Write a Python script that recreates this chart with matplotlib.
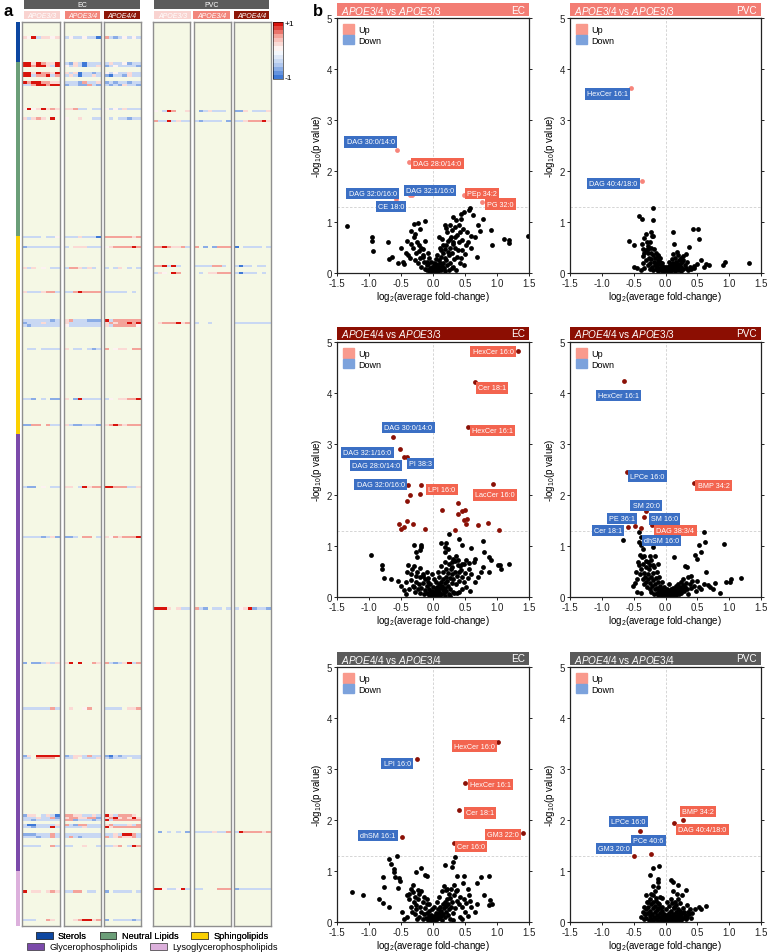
import numpy as np
import matplotlib
matplotlib.use('Agg')
import matplotlib.pyplot as plt
from matplotlib.patches import Patch
from matplotlib.colors import LinearSegmentedColormap, Normalize
import matplotlib.colorbar as mcolorbar

plt.rcParams['font.family'] = ['Liberation Sans', 'DejaVu Sans']
plt.rcParams['mathtext.fontset'] = 'custom'
plt.rcParams['mathtext.rm'] = 'Liberation Sans'
plt.rcParams['mathtext.it'] = 'Liberation Sans:italic'
plt.rcParams['axes.unicode_minus'] = False

# ---------------- panel a: heatmap data ----------------
N_LIPIDS = 380
N_SAMPLES = 8
cat_names = ['Sterols', 'Neutral Lipids', 'Sphingolipids',
             'Glycerophospholipids', 'Lysoglycerophospholipids']
cat_start = [0, 17, 90, 173, 357]
cat_colors = ['#0d47a1', '#6b9e78', '#fbd000', '#7b4aaa', '#dcb0dc']
groups = ['APOE3/3', 'APOE3/4', 'APOE4/4']
group_colors = ['#f9d3d0', '#f2857b', '#8e1709']

# cell codes: R strong up, r up, p slight up, 0 none, b slight down, B down, D strong down, . not shown
level = {'R': 0.9, 'r': 0.55, 'p': 0.25, '0': 0.0, 'b': -0.3, 'B': -0.6, 'D': -0.9, '.': np.nan}

hm_rows = [6, 17, 18, 21, 22, 25, 26, 36, 37, 40, 41, 90, 94, 102, 103, 105, 113,
           125, 126, 127, 137, 158, 169, 195, 216, 246, 269, 288, 308, 309,
           333, 334, 335, 337, 338, 340, 341, 342, 346, 364, 365, 377]
hm_ec = [
    ("p0Rbpp0p", "b0bb0bbD", "rbBb0b0b"),
    ("RRpRrppR", "bBpbDbbb", "bpbb0Bbb"),
    ("RRrRRpbR", "0bpbDbbp", "Bb0bbbbB"),
    ("RRpRrrpR", "pbpDbbBb", "0b0bbpbb"),
    ("RRbrrRbr", "bpbDbbpb", "BDbbBpbb"),
    ("RrRRrrpp", "bbbBrbbp", "BbBbbBbb"),
    ("bbrRRrRR", "BbbBBrbB", "bBbBpbbB"),
    ("0R0pRprp", "pprbb.bb", "0b0bpbbb"),
    None,
    ("pbprp.R.", "0..p..bb", ".b.bbBbb"),
    None,
    ("bbbb.bb0", "bbbpbbbD", "rrrrrrpr"),
    ("Bbbbbbbb", "b.pppbbb", "0prrrrRr"),
    None,
    ("pbp.0.bb", "brrpbpb.", "b.bp.b.b"),
    None,
    ("pbbbprrb", "bbrRrrrr", "bbbbb.b."),
    ("bbbbbbBb", "prbbbBBB", "Rbrrrrrr"),
    ("Bbbbpbbb", "pbbbbbbb", "prprrRrR"),
    ("bBbbbbbb", "0bbbbbbb", "pbrrrrr0"),
    (".bb.bbbb", "p.bb.bBb", "r.0pp.rr"),
    ("bbB.b.BB", "p.BRbbbb", "b0.pprrR"),
    ("BBrr.rbb", "pbBBbbbB", "prRrprrr"),
    ("bBB.0.bb", "pp.bRprr", "RRrrrbbp"),
    ("bbbbBbpB", "BBb.rr.b", "p0rprrrR"),
    None,
    ("B.BBbpbp", "pR.R..rp", "rbBbpRbr"),
    ("bbbbbbrb", ".p..0r..", "bbbb.ppr"),
    ("Bp.RRRRR", "Bbppbrbb", "BDbBbbbb"),
    ("bb.rrrr.", "bbp.bbbp", "bBbbb.bb"),
    ("Bpp.bpbD", "rrppbbpb", "Rpbrrrp."),
    ("bbbpbbrB", "prrpprrB", "prRprpRp"),
    ("bbBbbbbb", "rrBbbbBb", "Rbrrrrrr"),
    ("bDDbbbbp", "rbBrrbbb", "prbbbpbr"),
    ("bbBbbbRb", "bbbbpbbb", "Rprrrrrr"),
    None,
    ("BBBbbbrb", "bbbbbbbb", "bbpbRRrb"),
    ("bbbBbbrb", "brbBbbbb", "rbprpprb"),
    ("bbbb..rb", "bb..p..b", "bbpr.bRr"),
    None,
    ("R.pp.prp", "bbrr.bb.", "B.bbbb.b"),
    ("bbb..rp.", "..prRRpr", "B.bbbbBb"),
]
hm_pvc = [
    None, None, None, None, None, None, None, None,
    ("0.bRr..p", ".Bbpbbb.", "BBp.bbbp"),
    None,
    ("rbbRbpbb", "bBbbbb.B", "bbprrrRp"),
    None,
    ("rrRrpprb", "r.B.Brrr", "D.bbbb.b"),
    ("rrRbRb..", "bbbbrrb.", "bDbb.bb."),
    None,
    ("bp0.Rr..", ".b.pprrr", "bDbbb.b."),
    None, None,
    (".prrrRpr", "b..b....", "bbbbbbbb"),
    None, None, None, None, None, None,
    ("RRRp.pbb", "rbB.bb.b", "b0pRBbbB"),
    None, None, None, None, None, None, None, None, None,
    (".B.b.b.B", "bbbbpbbr", "bRrrrrpr"),
    None, None, None,
    ("RR0bb0Rb", "bb...rrr", "Bbbbbbbb"),
    None, None,
]

# ---------------- panel b: volcano data ----------------
v1_x = [-1.34, -0.96, -0.95, -0.93, -0.70, -0.69, -0.64, -0.47, -0.46, -0.34, -0.28, -0.30, -0.24, -0.13, -0.20,
        -0.385, -0.35, -0.22, -0.16, -0.15, -0.10, 0.31, 0.36, 0.44, 0.49, 0.56, 0.58, 0.62, 0.78, 0.42, 0.47, 0.53,
        0.59, 0.74, 0.90, 0.92, 0.68, 1.11, 1.18, 1.19, 1.48, 0.18, 0.22, 0.14, 0.26, 0.32, 0.11,
        -0.05, -0.02, 0.00, 0.03, 0.06, 0.08, 0.10, 0.12, 0.15, 0.17, 0.20, 0.22, 0.25, 0.27, 0.30, 0.33, 0.35, 0.38,
        0.40, 0.45, 0.50, 0.55, -0.04, -0.07, -0.10, -0.12, -0.14, -0.18, -0.20, -0.23, -0.26, -0.28, -0.32, -0.36,
        -0.40, -0.42, -0.50, -0.55, 0.05, 0.09, 0.13, 0.16, 0.19, 0.21, 0.24, 0.28, 0.30, 0.35, 0.38, 0.26, 0.20,
        0.10, -0.06, -0.08, -0.03, 0.02, 0.07, 0.12, 0.04, 0.01, 0.15, 0.32, 0.42, 0.48, 0.36, 0.25, -0.18, -0.12,
        -0.30, -0.25, 0.60, 0.65, 0.70, 0.03, -0.01, 0.07, 0.11, 0.14, 0.18, 0.23, 0.27, 0.31, 0.34, 0.40, 0.44,
        -0.08, -0.16, -0.22, -0.09, 0.19, 0.29, 0.44, 0.52, 0.46, 0.39]
v1_y = [0.93, 0.71, 0.63, 0.44, 0.60, 0.27, 0.31, 0.21, 0.18, 0.82, 0.77, 0.96, 0.98, 1.01, 0.86,
        0.35, 0.57, 0.44, 0.47, 0.31, 0.21, 1.09, 1.03, 1.15, 1.19, 1.24, 1.27, 1.13, 1.06, 0.80, 0.86, 0.80,
        0.72, 0.83, 0.85, 0.54, 0.31, 0.67, 0.58, 0.65, 0.72, 0.95, 0.80, 0.67, 0.67, 0.57, 0.50,
        0.02, 0.05, 0.01, 0.04, 0.08, 0.03, 0.12, 0.06, 0.20, 0.10, 0.25, 0.15, 0.35, 0.20, 0.40, 0.28, 0.50, 0.32,
        0.60, 0.45, 0.38, 0.60, 0.10, 0.06, 0.15, 0.08, 0.22, 0.12, 0.30, 0.20, 0.40, 0.25, 0.50, 0.30,
        0.62, 0.40, 0.50, 0.20, 0.18, 0.25, 0.32, 0.40, 0.48, 0.55, 0.62, 0.70, 0.85, 0.90, 0.75, 0.95, 0.88,
        0.70, 0.30, 0.40, 0.22, 0.14, 0.35, 0.45, 0.28, 0.20, 0.55, 0.12, 0.20, 0.15, 0.05, 0.06, 0.50, 0.62,
        0.70, 0.60, 0.50, 0.70, 0.95, 0.09, 0.12, 0.15, 0.20, 0.13, 0.30, 0.42, 0.50, 0.60, 0.70, 0.95, 1.05,
        0.18, 0.35, 0.55, 0.05, 0.04, 0.10, 0.30, 0.55, 0.65, 0.45]
v1_sig_x = [-0.557, -0.375, -0.354, -0.323, -0.578, 0.49, 0.76]
v1_sig_y = [2.42, 2.17, 1.52, 1.52, 1.45, 1.53, 1.39]
v1_lab = ['DAG 30:0/14:0', 'DAG 28:0/14:0', 'DAG 32:1/16:0', 'DAG 32:0/16:0', 'CE 18:0', 'PEp 34:2', 'PG 32:0']
v1_lab_x = [-0.974, 0.068, -0.047, -0.943, -0.656, 0.766, 1.057]
v1_lab_y = [2.57, 2.15, 1.62, 1.56, 1.30, 1.56, 1.35]

v2_x = [-0.20, -0.41, -0.375, -0.19, -0.58, -0.50, -0.30, -0.22, -0.20, 0.115, 0.43, 0.51, 0.52, 0.135, 0.375,
        -0.49, -0.45, -0.36, -0.355, -0.28, -0.23, -0.18, -0.115, 0.28, 0.32, 0.55, 0.63, 0.69, 0.91, 0.93, 1.31,
        0.45, 0.34, -0.21, -0.37, -0.33, -0.27,
        -0.30, -0.28, -0.26, -0.25, -0.24, -0.22, -0.21, -0.20, -0.19, -0.18, -0.17, -0.16, -0.15, -0.14, -0.13,
        -0.12, -0.11, -0.10, -0.09, -0.08, -0.07, -0.06, -0.05, -0.04, -0.03, -0.02, -0.01, 0.00, 0.01, 0.02, 0.03,
        0.04, 0.05, 0.06, 0.07, 0.08, 0.09, 0.10, 0.11, 0.12, 0.13, 0.14, 0.15, 0.16, 0.17, 0.18, 0.19, 0.20, 0.21,
        0.22, 0.23, 0.24, 0.25, 0.26, 0.28, 0.30, 0.32, 0.35, 0.38, 0.40, -0.33, -0.35, -0.38, -0.27, -0.23, -0.25,
        -0.15, -0.12, -0.08, -0.05, 0.00, 0.05, 0.10, 0.15, 0.20, 0.25, 0.18, 0.12, 0.28, -0.29, -0.31, -0.34,
        0.45, 0.50, 0.60]
v2_y = [1.28, 1.11, 1.05, 1.03, 0.63, 0.54, 0.77, 0.80, 0.72, 0.80, 0.87, 0.87, 0.66, 0.56, 0.51,
        0.12, 0.09, 0.33, 0.47, 0.52, 0.40, 0.47, 0.33, 0.33, 0.37, 0.26, 0.18, 0.16, 0.16, 0.21, 0.20,
        0.14, 0.21, 0.73, 0.56, 0.39, 0.47,
        0.25, 0.15, 0.30, 0.08, 0.20, 0.28, 0.12, 0.35, 0.05, 0.22, 0.15, 0.30, 0.08, 0.20, 0.12,
        0.25, 0.04, 0.17, 0.10, 0.22, 0.05, 0.14, 0.08, 0.02, 0.11, 0.05, 0.01, 0.03, 0.07, 0.02, 0.10,
        0.04, 0.14, 0.06, 0.02, 0.10, 0.17, 0.05, 0.12, 0.20, 0.08, 0.15, 0.03, 0.22, 0.10, 0.17, 0.06, 0.13, 0.25,
        0.09, 0.18, 0.04, 0.12, 0.22, 0.08, 0.15, 0.10, 0.05, 0.12, 0.08, 0.10, 0.20, 0.05, 0.40, 0.50, 0.60,
        0.40, 0.35, 0.30, 0.20, 0.12, 0.22, 0.28, 0.30, 0.35, 0.30, 0.42, 0.38, 0.25, 0.60, 0.45, 0.68,
        0.10, 0.18, 0.12]
v2_sig_x = [-0.54, -0.375]
v2_sig_y = [3.62, 1.80]
v2_lab = ['HexCer 16:1', 'DAG 40:4/18:0']
v2_lab_x = [-0.911, -0.815]
v2_lab_y = [3.51, 1.76]

v3_x = [-0.97, -0.79, -0.79, -0.76, -0.66, -0.55, -0.385, -0.29, -0.19, -0.18, -0.27, -0.25, -0.21, -0.40, -0.42,
        0.255, 0.41, 0.46, 0.59, 0.78, 0.21, 0.18, 0.23, 0.36, 0.49, 0.64, 0.80, 0.875, 0.90, 1.01, 1.05, 1.18,
        1.06, 0.87, 0.78, 0.75, 0.56, 0.30, 0.385, 0.44, -0.27, -0.21, -0.16, -0.09, -0.08, -0.34, -0.32, -0.50,
        -0.45, 0.32, 0.375, 0.41, 0.125, 0.18, 0.255, 0.32, 0.385, 0.46, 0.52, 0.57, 0.65,
        -0.30, -0.28, -0.26, -0.24, -0.22, -0.20, -0.18, -0.16, -0.14, -0.12, -0.10, -0.09, -0.07, -0.06, -0.05,
        -0.04, -0.03, -0.02, -0.01, 0.00, 0.01, 0.02, 0.03, 0.04, 0.05, 0.06, 0.07, 0.08, 0.09, 0.10, 0.11, 0.12,
        0.13, 0.14, 0.15, 0.16, 0.17, 0.18, 0.19, 0.20, 0.21, 0.22, 0.23, 0.24, 0.25, 0.26, 0.27, 0.28, 0.29, 0.30,
        0.32, 0.34, 0.36, 0.38, 0.40, 0.42, 0.45, 0.48, 0.50, 0.55, 0.60, 0.65, 0.70, -0.35, -0.33, -0.30, -0.25,
        -0.20, -0.15, -0.12, -0.08, -0.05, 0.00, 0.05, 0.10, 0.15, 0.20, 0.25, 0.30, 0.35, 0.40, 0.08, 0.13, 0.18,
        -0.38, -0.42, 0.02, -0.02, 0.11, 0.19, 0.27, 0.33, 0.45, 0.52, 0.58]
v3_y = [0.82, 0.62, 0.54, 0.37, 0.36, 0.31, 0.62, 1.01, 1.01, 0.98, 0.88, 0.78, 0.93, 0.49, 0.29,
        1.24, 1.14, 1.01, 0.96, 1.09, 1.05, 0.98, 0.94, 0.81, 0.65, 0.68, 0.88, 0.78, 0.72, 0.62, 0.62, 0.65,
        0.54, 0.49, 0.58, 0.50, 0.55, 0.68, 0.62, 0.52, 0.42, 0.56, 0.42, 0.49, 0.37, 0.33, 0.22, 0.22,
        0.13, 0.10, 0.07, 0.10, 1.05, 0.88, 0.78, 0.75, 0.72, 0.65, 0.72, 0.67, 0.75,
        0.20, 0.10, 0.30, 0.15, 0.25, 0.08, 0.18, 0.28, 0.05, 0.14, 0.22, 0.08, 0.03, 0.16, 0.10,
        0.02, 0.06, 0.12, 0.03, 0.01, 0.05, 0.10, 0.02, 0.15, 0.07, 0.20, 0.04, 0.12, 0.25, 0.09, 0.18, 0.30,
        0.05, 0.22, 0.14, 0.35, 0.08, 0.27, 0.18, 0.40, 0.12, 0.32, 0.22, 0.48, 0.05, 0.38, 0.15, 0.55, 0.28, 0.45,
        0.35, 0.50, 0.25, 0.42, 0.32, 0.60, 0.40, 0.30, 0.48, 0.38, 0.45, 0.30, 0.40, 0.45, 0.55, 0.60, 0.50,
        0.40, 0.45, 0.35, 0.30, 0.25, 0.20, 0.30, 0.40, 0.50, 0.55, 0.65, 0.58, 0.70, 0.50, 0.50, 0.60, 0.68,
        0.15, 0.05, 0.35, 0.45, 0.03, 0.02, 0.02, 0.08, 0.15, 0.20, 0.12]
v3_sig_x = [1.33, 0.656, 0.547, -0.63, -0.52, -0.45, -0.41, -0.385, -0.19, 0.94,
            -0.354, -0.406, -0.198, 0.14, 0.385, 0.396, 0.45, 0.505, 0.48, 0.53, 0.51, 0.71, 0.86, 1.03, 0.35,
            -0.125, -0.525, -0.50, -0.45, -0.41, -0.32]
v3_sig_y = [4.82, 4.22, 3.34, 3.14, 2.90, 2.75, 2.75, 2.20, 2.19, 2.22,
            2.00, 1.89, 2.02, 1.70, 1.84, 1.63, 1.68, 1.71, 1.51, 1.53, 1.44, 1.41, 1.46, 1.31, 1.31,
            1.34, 1.44, 1.34, 1.37, 1.50, 1.44]
v3_lab = ['HexCer 16:0', 'Cer 18:1', 'HexCer 16:1', 'DAG 30:0/14:0', 'DAG 32:1/16:0', 'DAG 28:0/14:0',
          'PI 38:3', 'DAG 32:0/16:0', 'LPI 16:0', 'LacCer 16:0']
v3_lab_x = [0.9375, 0.922, 0.927, -0.383, -1.026, -0.89, -0.198, -0.818, 0.138, 0.964]
v3_lab_y = [4.81, 4.10, 3.27, 3.32, 2.83, 2.58, 2.62, 2.20, 2.11, 2.00]

v4_x = [-0.66, -0.41, -0.39, 0.61, 0.625, 0.52, 0.92, 0.46, 0.50, 0.56, 0.135, 0.30, 0.33, 0.64, -0.51, -0.43,
        -0.42, -0.40, -0.37, -0.33, -0.25, -0.16, -0.27, -0.20, -0.36, -0.41, -0.39, 1.03, 0.95, 0.78, 0.85, 1.18,
        1.01, 0.50, 0.60, 0.66, 0.40, -0.19,
        -0.40, -0.38, -0.36, -0.35, -0.34, -0.33, -0.32, -0.31, -0.30, -0.29, -0.28, -0.27, -0.26, -0.25, -0.24,
        -0.23, -0.22, -0.21, -0.20, -0.19, -0.18, -0.17, -0.16, -0.15, -0.14, -0.13, -0.12, -0.11, -0.10, -0.09,
        -0.08, -0.07, -0.06, -0.05, -0.04, -0.03, -0.02, -0.01, 0.00, 0.01, 0.02, 0.03, 0.04, 0.05, 0.06, 0.07,
        0.08, 0.09, 0.10, 0.11, 0.12, 0.13, 0.14, 0.15, 0.16, 0.17, 0.18, 0.19, 0.20, 0.21, 0.22, 0.23, 0.24, 0.25,
        0.26, 0.27, 0.28, 0.29, 0.30, 0.32, 0.34, 0.36, 0.38, 0.40, 0.42, 0.45, 0.48, 0.52, 0.55, -0.44, -0.46,
        -0.48, -0.30, -0.24, -0.18, -0.14, -0.10, -0.06, -0.02, 0.02, 0.06, -0.22, -0.12, -0.45, -0.38, 0.35,
        0.70, 0.75]
v4_y = [1.11, 1.27, 1.17, 1.27, 1.07, 1.02, 1.03, 0.82, 0.75, 0.88, 0.78, 0.61, 0.59, 0.50, 0.22, 0.69,
        0.63, 0.82, 0.78, 0.80, 0.80, 0.80, 0.69, 0.63, 0.95, 1.08, 1.01, 0.35, 0.30, 0.28, 0.07, 0.37,
        0.30, 0.31, 0.26, 0.23, 0.41, 0.98,
        0.45, 0.55, 0.35, 0.65, 0.25, 0.48, 0.40, 0.58, 0.30, 0.20, 0.45, 0.35, 0.55, 0.15, 0.28,
        0.40, 0.10, 0.22, 0.33, 0.48, 0.05, 0.15, 0.26, 0.38, 0.08, 0.18, 0.30, 0.03, 0.12, 0.22,
        0.06, 0.15, 0.02, 0.09, 0.04, 0.12, 0.01, 0.05, 0.02, 0.06, 0.03, 0.09, 0.01, 0.05, 0.12, 0.03,
        0.08, 0.15, 0.05, 0.10, 0.18, 0.02, 0.07, 0.13, 0.22, 0.04, 0.10, 0.17, 0.26, 0.06, 0.13, 0.20, 0.30, 0.08,
        0.16, 0.24, 0.35, 0.11, 0.20, 0.28, 0.15, 0.40, 0.25, 0.18, 0.32, 0.22, 0.12, 0.20, 0.15, 0.35, 0.50,
        0.28, 0.70, 0.62, 0.58, 0.50, 0.40, 0.30, 0.20, 0.15, 0.25, 0.72, 0.65, 0.10, 0.08, 0.05,
        0.20, 0.15]
v4_sig_x = [-0.646, -0.60, 0.45, -0.30, -0.34, -0.21, -0.59, -0.48, -0.38]
v4_sig_y = [4.23, 2.45, 2.24, 1.69, 1.56, 1.41, 1.37, 1.39, 1.35]
v4_lab = ['HexCer 16:1', 'LPCe 16:0', 'BMP 34:2', 'SM 20:0', 'PE 36:1', 'SM 16:0', 'Cer 18:1',
          'DAG 38:3/4', 'dhSM 16:0']
v4_lab_x = [-0.734, -0.284, 0.753, -0.307, -0.6875, -0.013, -0.906, 0.156, -0.06]
v4_lab_y = [3.95, 2.37, 2.19, 1.80, 1.54, 1.53, 1.31, 1.31, 1.11]

v5_x = [-1.26, -1.09, -0.84, -0.78, -0.68, -0.78, -0.76, -0.68, -0.66, -0.61, -0.61, -0.60, -0.53, -0.52, -0.55,
        -0.56, -0.49, -0.40, -0.37, -0.27, -0.19, -0.13, -0.10, -0.31, -0.23, -0.27, 0.19, 0.32, 0.34, 0.30, 0.37,
        0.49, 0.47, 0.545, 0.68, 0.75, 0.88, 0.80, 0.89, 0.92, 0.87, 0.69, 0.56, 0.585, 0.55, 0.33, 0.38, 0.25,
        0.17, 0.22,
        -0.35, -0.33, -0.30, -0.28, -0.26, -0.24, -0.22, -0.20, -0.18, -0.16, -0.15, -0.14, -0.12, -0.11, -0.10,
        -0.09, -0.08, -0.07, -0.06, -0.05, -0.04, -0.03, -0.02, -0.01, 0.00, 0.01, 0.02, 0.03, 0.04, 0.05, 0.06,
        0.07, 0.08, 0.09, 0.10, 0.11, 0.12, 0.13, 0.14, 0.15, 0.16, 0.17, 0.18, 0.19, 0.20, 0.21, 0.22, 0.23, 0.24,
        0.25, 0.26, 0.27, 0.28, 0.30, 0.31, 0.33, 0.35, 0.37, 0.40, 0.42, 0.45, 0.48, 0.50, 0.52, -0.40, -0.38,
        -0.35, -0.32, -0.28, -0.22, -0.18, -0.14, -0.10, -0.06, -0.02, 0.02, 0.06, 0.10, 0.14, 0.20, 0.28, 0.36,
        0.42, 0.46, 0.60, 0.65, -0.45, -0.25, 0.32]
v5_y = [0.59, 0.52, 0.45, 0.37, 0.29, 0.88, 0.68, 1.23, 1.14, 1.03, 0.98, 0.88, 0.86, 0.80, 0.67,
        1.29, 0.20, 0.52, 0.45, 0.99, 1.05, 0.92, 0.91, 0.72, 0.62, 0.33, 1.11, 1.17, 1.28, 1.08, 0.91,
        0.91, 0.76, 0.65, 0.76, 0.88, 0.91, 0.53, 0.44, 0.36, 0.33, 0.36, 0.52, 0.42, 0.11, 0.72, 0.62, 0.55,
        0.70, 0.65,
        0.30, 0.20, 0.40, 0.15, 0.25, 0.45, 0.10, 0.30, 0.20, 0.40, 0.05, 0.15, 0.28, 0.08, 0.18,
        0.35, 0.04, 0.12, 0.22, 0.07, 0.02, 0.14, 0.05, 0.10, 0.02, 0.06, 0.12, 0.03, 0.09, 0.18, 0.05,
        0.13, 0.25, 0.08, 0.18, 0.30, 0.12, 0.22, 0.04, 0.35, 0.16, 0.27, 0.40, 0.10, 0.32, 0.20, 0.45, 0.14, 0.36,
        0.25, 0.05, 0.48, 0.30, 0.40, 0.18, 0.52, 0.28, 0.42, 0.35, 0.50, 0.30, 0.45, 0.20, 0.38, 0.10, 0.55,
        0.65, 0.58, 0.50, 0.55, 0.60, 0.50, 0.45, 0.35, 0.25, 0.30, 0.40, 0.50, 0.60, 0.62, 0.65, 0.60,
        0.10, 0.05, 0.30, 0.20, 0.05, 0.05, 0.04]
v5_sig_x = [1.02, -0.25, 0.50, 0.41, 1.41, -0.48, 0.33]
v5_sig_y = [3.53, 3.19, 2.72, 2.19, 1.75, 1.66, 1.55]
v5_lab = ['HexCer 16:0', 'LPI 16:0', 'HexCer 16:1', 'Cer 18:1', 'GM3 22:0', 'dhSM 16:1', 'Cer 16:0']
v5_lab_x = [0.643, -0.56, 0.903, 0.737, 1.095, -0.861, 0.597]
v5_lab_y = [3.45, 3.11, 2.69, 2.14, 1.72, 1.69, 1.48]

v6_x = [-0.19, -0.10, -0.24, -0.115, -0.125, -0.20, -0.12, -0.31, 0.094, 0.125, 0.20, 0.32, 0.26, 0.47, 0.53,
        0.63, 0.35, 0.29, -0.28, -0.32, -0.19, -0.15, -0.06, 0.19, 0.23, 0.16, 0.34, 0.38, 0.55,
        -0.34, -0.32, -0.30, -0.30, -0.28, -0.27, -0.26, -0.25, -0.24, -0.23, -0.22, -0.21, -0.20, -0.19, -0.18,
        -0.17, -0.16, -0.15, -0.14, -0.13, -0.12, -0.11, -0.10, -0.09, -0.08, -0.07, -0.06, -0.05, -0.04, -0.03,
        -0.02, -0.01, 0.00, 0.01, 0.02, 0.03, 0.04, 0.05, 0.06, 0.07, 0.08, 0.09, 0.10, 0.11, 0.12, 0.13, 0.14,
        0.15, 0.16, 0.17, 0.18, 0.19, 0.20, 0.21, 0.22, 0.23, 0.24, 0.25, 0.26, 0.27, 0.28, 0.30, 0.32, 0.34, 0.37,
        0.40, 0.42, -0.36, -0.38, -0.33, -0.29, -0.25, -0.20, -0.15, -0.10, -0.05, 0.00, 0.05, 0.10, 0.15, 0.08,
        0.02, -0.08, 0.18, 0.12, -0.17, -0.22, 0.06, -0.06, 0.22, 0.14, -0.12]
v6_y = [1.06, 1.10, 0.93, 0.85, 0.78, 0.70, 0.68, 0.52, 0.83, 0.78, 0.72, 0.62, 0.52, 0.26, 0.29,
        0.31, 0.20, 0.20, 0.40, 0.16, 0.52, 0.42, 0.47, 0.46, 0.38, 0.33, 0.33, 0.26, 0.25,
        0.05, 0.15, 0.25, 0.08, 0.18, 0.30, 0.03, 0.12, 0.22, 0.35, 0.06, 0.16, 0.27, 0.02, 0.10,
        0.20, 0.32, 0.05, 0.14, 0.24, 0.38, 0.02, 0.09, 0.18, 0.28, 0.04, 0.12, 0.21, 0.01, 0.07,
        0.15, 0.03, 0.10, 0.02, 0.06, 0.14, 0.03, 0.09, 0.18, 0.05, 0.12, 0.22, 0.02, 0.08, 0.16, 0.27, 0.05,
        0.12, 0.20, 0.03, 0.09, 0.16, 0.26, 0.06, 0.13, 0.21, 0.03, 0.10, 0.17, 0.28, 0.07, 0.14, 0.05, 0.10, 0.15,
        0.08, 0.18, 0.20, 0.10, 0.30, 0.40, 0.45, 0.40, 0.48, 0.35, 0.30, 0.25, 0.32, 0.38, 0.40, 0.45,
        0.40, 0.50, 0.55, 0.60, 0.60, 0.55, 0.02, 0.06, 0.02, 0.30, 0.28]
v6_sig_x = [0.276, 0.14, -0.396, -0.234, -0.50]
v6_sig_y = [2.00, 1.95, 1.79, 1.34, 1.30]
v6_lab = ['BMP 34:2', 'DAG 40:4/18:0', 'LPCe 16:0', 'PCe 40:6', 'GM3 20:0']
v6_lab_x = [0.516, 0.578, -0.583, -0.266, -0.8125]
v6_lab_y = [2.17, 1.81, 1.97, 1.60, 1.44]

comparisons = [('APOE3/4', 'APOE3/3'), ('APOE4/4', 'APOE3/3'), ('APOE4/4', 'APOE3/4')]
regions = ['EC', 'PVC']
header_colors = ['#f37d74', '#8c0e02', '#5a5a5a']
sig_colors = ['#f7857b', '#8b1006', '#8b1006']

# ---------------- figure ----------------
W, H = 768, 953
fig = plt.figure(figsize=(W / 100, H / 100), dpi=100)


def px_axes(x0, y0, x1, y1):
    return fig.add_axes([x0 / W, 1 - y1 / H, (x1 - x0) / W, (y1 - y0) / H])


def header(x0, y0, x1, y1, color):
    a = px_axes(x0, y0, x1, y1)
    a.set_facecolor(color)
    a.set_xticks([])
    a.set_yticks([])
    for s in a.spines.values():
        s.set_visible(False)
    return a


# panel a -------------------------------------------------
fig.text(3 / W, 1 - 11 / H, 'a', fontsize=12, fontweight='bold', va='center')
fig.text(313 / W, 1 - 11 / H, 'b', fontsize=12, fontweight='bold', va='center')

mats = np.full((6, N_LIPIDS, N_SAMPLES), np.nan)
for i, r in enumerate(hm_rows):
    for k, block in enumerate([hm_ec[i], hm_pvc[i]]):
        if block is None:
            continue
        for g in range(3):
            mats[k * 3 + g, r, :] = [level[c] for c in block[g]]

cmap = LinearSegmentedColormap.from_list(
    'lipid', ['#3f79d6', '#b9cdf0', '#ffffff', '#f7b0a6', '#d8130c'], N=14)
cmap.set_bad((0, 0, 0, 0))

col_x = [(22, 60), (64, 101), (104, 141), (153, 190), (194, 231), (234, 271)]
hm_top, hm_bot = 23, 927
for j, (x0, x1) in enumerate(col_x):
    ax = px_axes(x0, hm_top, x1, hm_bot)
    ax.set_facecolor('#f5f8e5')
    ax.imshow(mats[j], aspect='auto', cmap=cmap, vmin=-1, vmax=1, interpolation='nearest')
    ax.set_xticks([])
    ax.set_yticks([])
    for s in ax.spines.values():
        s.set_color('#8f8f8f')
        s.set_linewidth(1.0)

# category strip
ax = px_axes(16, hm_top, 19.5, hm_bot)
bounds = cat_start + [N_LIPIDS]
for c in range(len(cat_names)):
    ax.axhspan(bounds[c], bounds[c + 1], color=cat_colors[c], lw=0)
ax.set_ylim(N_LIPIDS, 0)
ax.axis('off')

# region and genotype headers
for k, (x0, x1) in enumerate([(24, 140), (154, 269)]):
    a = header(x0, 1, x1, 10, '#5b5b5b')
    a.text(0.5, 0.5, regions[k], color='white', fontsize=5, ha='center', va='center',
           transform=a.transAxes)
sub_x = [(24, 60), (65, 100), (104, 140), (154, 191), (193, 230), (234, 269)]
for j, (x0, x1) in enumerate(sub_x):
    a = header(x0, 12, x1, 20, group_colors[j % 3])
    a.text(0.5, 0.5, groups[j % 3], color='white', fontsize=5, style='italic',
           ha='center', va='center', transform=a.transAxes)

# colorbar
cax = px_axes(273, 23, 283, 80)
cb = mcolorbar.ColorbarBase(cax, cmap=cmap, norm=Normalize(-1, 1), orientation='vertical')
cb.set_ticks([])
cb.outline.set_linewidth(0.4)
fig.text(285 / W, 1 - 24 / H, '+1', fontsize=6, va='center', ha='left')
fig.text(285 / W, 1 - 78 / H, '-1', fontsize=6, va='center', ha='left')

# category legend
handles = [Patch(facecolor=cat_colors[c], edgecolor='#333333', linewidth=0.5, label=cat_names[c])
           for c in range(len(cat_names))]
kw = dict(frameon=False, fontsize=6.6, handlelength=1.8, handleheight=0.8, handletextpad=0.6,
          columnspacing=1.4, borderaxespad=0, borderpad=0)
leg1 = fig.legend(handles=handles[:3], ncol=3, loc='center left',
                  bbox_to_anchor=(36 / W, 1 - 937 / H), **kw)
fig.add_artist(leg1)
fig.legend(handles=handles[3:], ncol=2, loc='center left',
           bbox_to_anchor=(27 / W, 1 - 948 / H), **kw)

# panel b -------------------------------------------------
vx = [v1_x, v2_x, v3_x, v4_x, v5_x, v6_x]
vy = [v1_y, v2_y, v3_y, v4_y, v5_y, v6_y]
sx = [v1_sig_x, v2_sig_x, v3_sig_x, v4_sig_x, v5_sig_x, v6_sig_x]
sy = [v1_sig_y, v2_sig_y, v3_sig_y, v4_sig_y, v5_sig_y, v6_sig_y]
labs = [v1_lab, v2_lab, v3_lab, v4_lab, v5_lab, v6_lab]
lx = [v1_lab_x, v2_lab_x, v3_lab_x, v4_lab_x, v5_lab_x, v6_lab_x]
ly = [v1_lab_y, v2_lab_y, v3_lab_y, v4_lab_y, v5_lab_y, v6_lab_y]

col_px = [(337, 529), (570, 761)]
row_px = [(19, 274), (343, 598), (668, 923)]
for r in range(3):
    for c in range(2):
        p = r * 2 + c
        x0, x1 = col_px[c]
        y0, y1 = row_px[r]
        ax = px_axes(x0, y0, x1, y1)
        ax.axhline(1.3, color='#cfcfcf', ls=(0, (3, 2)), lw=0.6, zorder=0)
        ax.axvline(0, color='#cfcfcf', ls=(0, (3, 2)), lw=0.6, zorder=0)
        ax.scatter(vx[p], vy[p], s=12, color='black', lw=0, zorder=2)
        ax.scatter(sx[p], sy[p], s=12, color=sig_colors[r], lw=0, zorder=3)
        for t, tx, ty in zip(labs[p], lx[p], ly[p]):
            fc = '#3b6fc4' if tx < 0 else '#f3644f'
            ax.text(tx, ty, t, fontsize=5.2, color='white', ha='center', va='center', zorder=4,
                    bbox=dict(boxstyle='square,pad=0.3', fc=fc, ec='none'))
        ax.set_xlim(-1.5, 1.5)
        ax.set_ylim(0, 5)
        ax.set_xticks([-1.5, -1.0, -0.5, 0.0, 0.5, 1.0, 1.5])
        ax.set_xticklabels(['-1.5', '-1.0', '-0.5', '0.0', '0.5', '1.0', '1.5'])
        ax.set_yticks([0, 1, 2, 3, 4, 5])
        ax.tick_params(axis='both', labelsize=7, length=2.5, width=0.7, pad=1, colors='#222222')
        ax.tick_params(axis='y', right=True)
        for s in ax.spines.values():
            s.set_linewidth(0.9)
            s.set_color('#222222')
        ax.set_xlabel('log$_2$(average fold-change)', fontsize=7, labelpad=0.5)
        ax.set_ylabel('-log$_{10}$(p value)', fontsize=7, labelpad=2)
        ax.legend(handles=[Patch(color='#f99a8d', label='Up'), Patch(color='#7ca2dc', label='Down')],
                  loc='upper left', fontsize=6.5, frameon=False, handlelength=1.2, handleheight=1.2,
                  handletextpad=0.4, labelspacing=0.1, borderaxespad=0.3)
        a = header(x0, y0 - 15, x1, y0 - 2, header_colors[r])
        g1, g2 = comparisons[r]
        a.text(0.02, 0.5, r'$\mathit{%s}$ vs $\mathit{%s}$' % (g1, g2), color='white', fontsize=7.2,
               ha='left', va='center', transform=a.transAxes)
        a.text(0.98, 0.5, regions[c], color='white', fontsize=7.2, ha='right', va='center',
               transform=a.transAxes)

fig.savefig('out.png', dpi=100)
